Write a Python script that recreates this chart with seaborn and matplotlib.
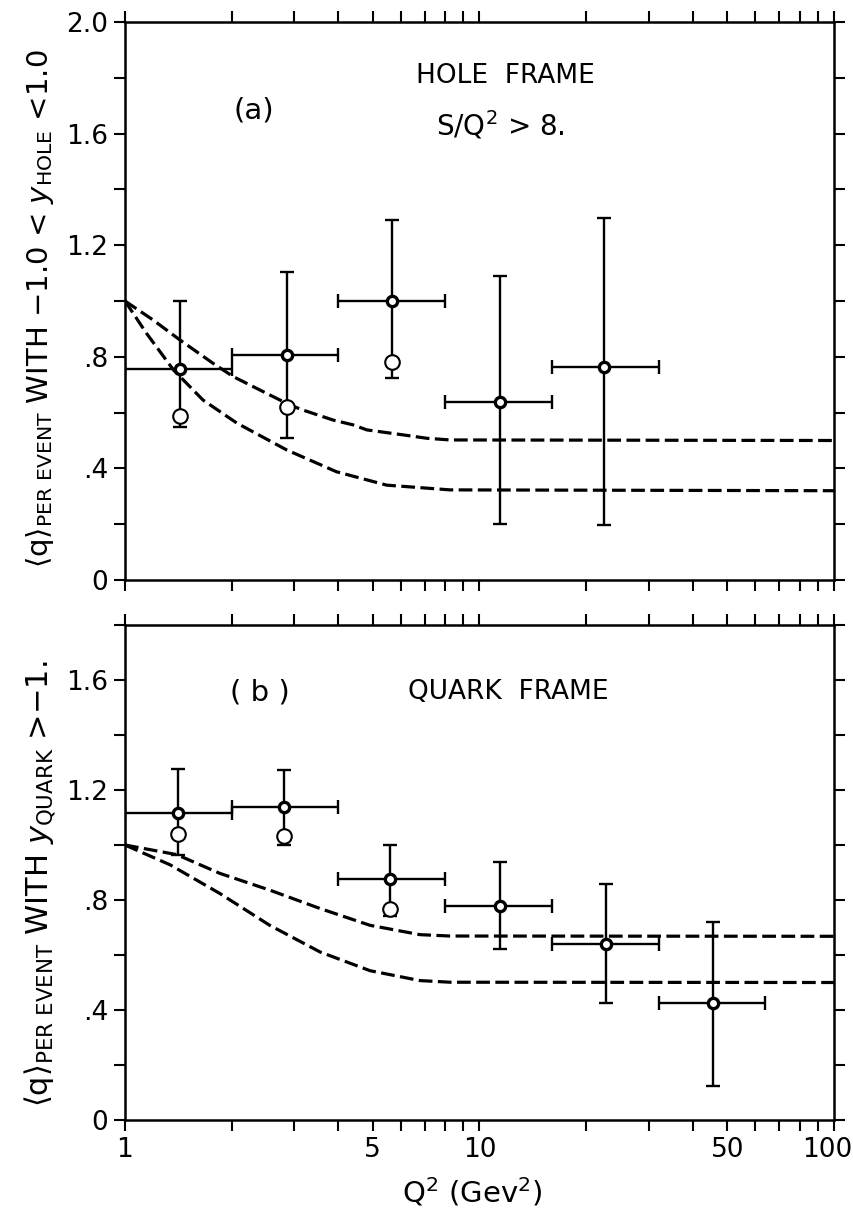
import numpy as np
import matplotlib
matplotlib.use("Agg")
import matplotlib.pyplot as plt
import matplotlib.transforms as mtransforms
import seaborn as sns
from matplotlib.ticker import FixedLocator, NullFormatter, FixedFormatter

# ---------------- data ----------------
# (a) hole frame, bins in Q^2 (GeV^2)
a_q2 = [1.43, 2.86, 5.68, 11.4, 22.5]
a_lo = [1, 2, 4, 8, 16]
a_hi = [2, 4, 8, 16, 32]
a_val = [0.755, 0.808, 1.00, 0.638, 0.762]
a_up = [1.00, 1.105, 1.29, 1.09, 1.296]
a_dn = [0.549, 0.508, 0.723, 0.20, 0.197]
a_open_q2 = [1.43, 2.86, 5.68]
a_open = [0.588, 0.619, 0.783]

# (b) quark frame
b_q2 = [1.41, 2.81, 5.6, 11.45, 22.7, 45.6]
b_lo = [1, 2, 4, 8, 16, 32]
b_hi = [2, 4, 8, 16, 32, 64]
b_val = [1.116, 1.138, 0.876, 0.779, 0.641, 0.425]
b_up = [1.278, 1.272, 1.001, 0.940, 0.858, 0.720]
b_dn = [0.962, 0.999, 0.742, 0.621, 0.427, 0.122]
b_open_q2 = [1.41, 2.81, 5.6]
b_open = [1.040, 1.032, 0.769]

# model curves (dashed)
a_upper_x = [1, 1.2, 1.43, 1.77, 2.02, 2.3, 2.92, 3.18, 3.87, 4.4, 4.81, 6.1, 7.1, 8.26, 100]
a_upper_y = [1.0, 0.932, 0.860, 0.777, 0.729, 0.693, 0.627, 0.609, 0.573, 0.556, 0.538,
             0.520, 0.508, 0.502, 0.50]
a_lower_x = [1, 1.15, 1.37, 1.66, 2.07, 2.86, 3.95, 5.47, 8.26, 100]
a_lower_y = [1.0, 0.884, 0.753, 0.645, 0.562, 0.466, 0.388, 0.340, 0.323, 0.32]
b_upper_x = [1, 1.4, 1.85, 2.56, 3.55, 4.91, 6.79, 8.26, 100]
b_upper_y = [1.0, 0.965, 0.897, 0.836, 0.769, 0.708, 0.674, 0.669, 0.668]
b_lower_x = [1, 1.34, 1.85, 2.56, 3.55, 4.91, 6.79, 8.26, 100]
b_lower_y = [1.0, 0.928, 0.824, 0.708, 0.611, 0.543, 0.507, 0.501, 0.50]

x_tick_vals = [1, 5, 10, 50, 100]
x_tick_labels = ["1", "5", "10", "50", "100"]
a_ytick_vals = [0, 0.4, 0.8, 1.2, 1.6, 2.0]
a_ytick_labels = ["0", ".4", ".8", "1.2", "1.6", "2.0"]
b_ytick_vals = [0, 0.4, 0.8, 1.2, 1.6]
b_ytick_labels = ["0", ".4", ".8", "1.2", "1.6"]

# ---------------- style ----------------
sns.set_theme(style="ticks")
plt.rcParams["font.family"] = ["DejaVu Sans"]
plt.rcParams["mathtext.fontset"] = "dejavusans"
for key in ("text.color", "axes.labelcolor", "xtick.color", "ytick.color", "axes.edgecolor"):
    plt.rcParams[key] = "black"

fig = plt.figure(figsize=(8.54, 12.19), dpi=100)
W, H = 854, 1219
L, R = 125 / W, 834 / W
ax_a = fig.add_axes([L, 1 - 580 / H, R - L, (580 - 22) / H])
ax_b = fig.add_axes([L, 1 - 1120 / H, R - L, (1120 - 625) / H])

dash = (0, (4.3, 1.7))
minor_x = [v * d for d in (1, 10) for v in range(2, 10)]


def draw_panel(ax, q2, lo, hi, val, up, dn, oq2, oval, curves, ylim, yt, ytl, show_x):
    for cx, cy in curves:
        sns.lineplot(x=cx, y=cy, ax=ax, color="black", lw=2.3,
                     linestyle=dash, sort=False, estimator=None)
    q2 = np.array(q2)
    val = np.array(val)
    xerr = [q2 - np.array(lo), np.array(hi) - q2]
    yerr = [val - np.array(dn), np.array(up) - val]
    ax.errorbar(q2, val, xerr=xerr, yerr=yerr, fmt="none", ecolor="black",
                elinewidth=1.7, capsize=5, capthick=1.7, zorder=3)
    sns.scatterplot(x=oq2, y=oval, ax=ax, marker="o", s=110,
                    facecolor="white", edgecolor="black", linewidth=1.5, zorder=4)
    sns.scatterplot(x=list(q2), y=list(val), ax=ax, marker="o", s=55,
                    facecolor="white", edgecolor="black", linewidth=2.4, zorder=5)

    ax.set_xscale("log")
    ax.set_xlim(1, 100)
    ax.set_ylim(*ylim)
    ax.xaxis.set_major_locator(FixedLocator(x_tick_vals))
    ax.xaxis.set_minor_locator(FixedLocator(minor_x))
    ax.xaxis.set_minor_formatter(NullFormatter())
    if show_x:
        ax.xaxis.set_major_formatter(FixedFormatter(x_tick_labels))
    else:
        ax.xaxis.set_major_formatter(NullFormatter())
    ax.yaxis.set_major_locator(FixedLocator(yt))
    ax.yaxis.set_major_formatter(FixedFormatter(ytl))
    ax.yaxis.set_minor_locator(FixedLocator(np.arange(0.2, ylim[1] + 0.01, 0.4)))
    ax.tick_params(which="both", direction="out", top=True, right=True,
                   length=8, width=1.5, color="black")
    ax.tick_params(axis="both", which="major", labelsize=19, pad=4, labelcolor="black")
    for s in ax.spines.values():
        s.set_visible(True)
        s.set_linewidth(1.8)
        s.set_color("black")
    ax.set_xlabel("")
    ax.set_ylabel("")


draw_panel(ax_a, a_q2, a_lo, a_hi, a_val, a_up, a_dn, a_open_q2, a_open,
           [(a_upper_x, a_upper_y), (a_lower_x, a_lower_y)],
           (0, 2.0), a_ytick_vals, a_ytick_labels, False)
draw_panel(ax_b, b_q2, b_lo, b_hi, b_val, b_up, b_dn, b_open_q2, b_open,
           [(b_upper_x, b_upper_y), (b_lower_x, b_lower_y)],
           (0, 1.8), b_ytick_vals, b_ytick_labels, True)

# keep the "100" label inside the canvas
fig.canvas.draw()
last = ax_b.get_xticklabels()[-1]
last.set_transform(last.get_transform() +
                   mtransforms.ScaledTranslation(-5 / 72, 0, fig.dpi_scale_trans))

# panel annotations
fig.text(254 / W, 1 - 110 / H, "(a)", fontsize=21, ha="center", va="center")
fig.text(505 / W, 1 - 76 / H, "HOLE  FRAME", fontsize=19, ha="center", va="center")
fig.text(500 / W, 1 - 125 / H, r"S/Q$^2$ > 8.", fontsize=20, ha="center", va="center")
fig.text(260 / W, 1 - 692 / H, "( b )", fontsize=21, ha="center", va="center")
fig.text(508 / W, 1 - 692 / H, "QUARK  FRAME", fontsize=19, ha="center", va="center")

# axis titles
fig.text(40 / W, 1 - 309 / H,
         r"$\langle\mathrm{q}\rangle_{\mathrm{PER\ EVENT}}$ WITH $-$1.0 < $y_{\mathrm{HOLE}}$ <1.0",
         rotation=90, fontsize=21, ha="center", va="center")
fig.text(40 / W, 1 - 884 / H,
         r"$\langle\mathrm{q}\rangle_{\mathrm{PER\ EVENT}}$ WITH $y_{\mathrm{QUARK}}$ >$-$1.",
         rotation=90, fontsize=22, ha="center", va="center")
fig.text(472 / W, 1 - 1192 / H, r"Q$^2$ (Gev$^2$)", fontsize=21, ha="center", va="center")

fig.savefig("out.png", dpi=100)
